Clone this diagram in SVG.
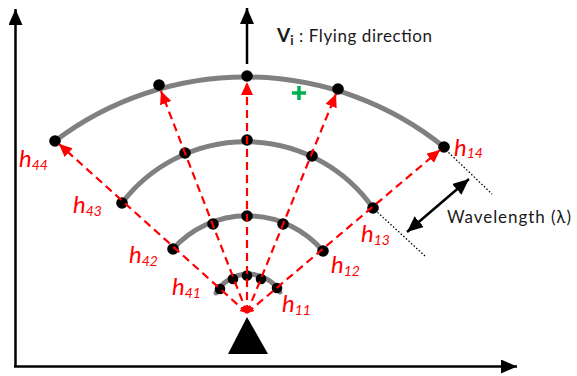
<svg xmlns="http://www.w3.org/2000/svg" width="577" height="376" viewBox="0 0 577 376">
<style>
.wave{fill:none;stroke:#808080;stroke-width:5;stroke-linecap:round}
.dot{fill:#000}
.ray{fill:none;stroke:#ff0000;stroke-width:2.2;stroke-dasharray:8 5}
.axis{stroke:#000;stroke-width:2.5;fill:none}
.lab{font-family:Lato,"Open Sans",sans-serif;font-style:italic;fill:#ff0000}
.h{font-size:24px}
.sub{font-size:14px}
.blk{font-family:Lato,"Open Sans",sans-serif;fill:#1a1a1a}
.dotted{stroke:#000;stroke-width:1.3;stroke-dasharray:1.5 2;fill:none}
</style>
<defs>
<marker id="ah" markerUnits="userSpaceOnUse" markerWidth="18" markerHeight="16" refX="16" refY="7" orient="auto"><path d="M0,0 L16,7 L0,14 z" fill="#000"/></marker>
<marker id="ahs" markerUnits="userSpaceOnUse" markerWidth="18" markerHeight="16" refX="16" refY="7" orient="auto-start-reverse"><path d="M0,0 L16,7 L0,14 z" fill="#000"/></marker>
<marker id="rh" markerUnits="userSpaceOnUse" markerWidth="16" markerHeight="14" refX="13" refY="6" orient="auto"><path d="M0,0 L13,6 L0,12 z" fill="#ff0000"/></marker>
<marker id="rs" markerUnits="userSpaceOnUse" markerWidth="10" markerHeight="10" refX="7" refY="3.5" orient="auto-start-reverse"><path d="M0,0 L7,3.5 L0,7 z" fill="#ff0000"/></marker>
</defs>

<g id="axes">
<line class="axis" x1="15.5" y1="367" x2="15.5" y2="9" marker-end="url(#ah)"/>
<line class="axis" x1="14" y1="366.5" x2="517" y2="366.5" marker-end="url(#ah)"/>
</g>

<g id="source">
<path d="M247,317 L228,354 L268,354 z" fill="#000"/>
</g>

<g id="wave4">
<path class="wave" d="M55,141 A316,316 0 0 1 444,147"/>
<circle class="dot" cx="55" cy="141" r="5.8"/>
<circle class="dot" cx="159" cy="85" r="5.8"/>
<circle class="dot" cx="247" cy="76" r="5.8"/>
<circle class="dot" cx="338" cy="89" r="5.8"/>
<circle class="dot" cx="444" cy="147" r="5.8"/>
</g>
<g id="wave3">
<path class="wave" d="M122,203 A155.5,155.5 0 0 1 373,208"/>
<circle class="dot" cx="122" cy="203" r="5.8"/>
<circle class="dot" cx="185" cy="153" r="5.8"/>
<circle class="dot" cx="247" cy="140" r="5.8"/>
<circle class="dot" cx="312" cy="156" r="5.8"/>
<circle class="dot" cx="373" cy="208" r="5.8"/>
</g>
<g id="wave2">
<path class="wave" d="M173,249 A99.5,99.5 0 0 1 323,251"/>
<circle class="dot" cx="173" cy="249" r="5.8"/>
<circle class="dot" cx="213" cy="224" r="5.8"/>
<circle class="dot" cx="247" cy="216" r="5.8"/>
<circle class="dot" cx="283" cy="224" r="5.8"/>
<circle class="dot" cx="323" cy="251" r="5.8"/>
</g>
<g id="wave1">
<path class="wave" d="M216,293 A37,37 0 0 1 280,292"/>
<circle class="dot" cx="220" cy="289" r="5.3"/>
<circle class="dot" cx="233" cy="279" r="5.3"/>
<circle class="dot" cx="247" cy="275.5" r="5.3"/>
<circle class="dot" cx="261" cy="279" r="5.3"/>
<circle class="dot" cx="277" cy="288" r="5.3"/>
</g>

<g id="connectors">
<line class="ray" x1="247" y1="313" x2="59" y2="144" marker-start="url(#rs)" marker-end="url(#rh)"/>
<line class="ray" x1="247" y1="313" x2="161" y2="91" marker-start="url(#rs)" marker-end="url(#rh)"/>
<line class="ray" x1="247" y1="313" x2="247" y2="82" marker-start="url(#rs)" marker-end="url(#rh)"/>
<line class="ray" x1="247" y1="313" x2="336" y2="94" marker-start="url(#rs)" marker-end="url(#rh)"/>
<line class="ray" x1="247" y1="313" x2="440" y2="150" marker-start="url(#rs)" marker-end="url(#rh)"/>
<line x1="247" y1="64" x2="247" y2="8" stroke="#000" stroke-width="2.5" marker-end="url(#ah)"/>
<line x1="407" y1="232" x2="469" y2="179" stroke="#000" stroke-width="2.5" marker-start="url(#ahs)" marker-end="url(#ah)"/>
<line class="dotted" x1="446" y1="150" x2="492" y2="194"/>
<line class="dotted" x1="375" y1="210" x2="425" y2="256"/>
</g>

<g id="plus">
<path d="M299,86 V100 M292,93 H306" stroke="#00b050" stroke-width="3.5"/>
</g>

<g id="labels">
<text class="lab" x="19" y="167"><tspan class="h">h</tspan><tspan class="sub" dy="3">44</tspan></text>
<text class="lab" x="73" y="213"><tspan class="h">h</tspan><tspan class="sub" dy="3">43</tspan></text>
<text class="lab" x="129" y="263"><tspan class="h">h</tspan><tspan class="sub" dy="3">42</tspan></text>
<text class="lab" x="172" y="295"><tspan class="h">h</tspan><tspan class="sub" dy="3">41</tspan></text>
<text class="lab" x="282" y="312"><tspan class="h">h</tspan><tspan class="sub" dy="3">11</tspan></text>
<text class="lab" x="331" y="273"><tspan class="h">h</tspan><tspan class="sub" dy="3">12</tspan></text>
<text class="lab" x="361" y="242"><tspan class="h">h</tspan><tspan class="sub" dy="3">13</tspan></text>
<text class="lab" x="454" y="156"><tspan class="h">h</tspan><tspan class="sub" dy="2">14</tspan></text>
</g>

<g id="title">
<text class="blk" x="277" y="42" font-size="19" font-weight="bold">V<tspan font-size="13" dy="3">i</tspan></text>
<text class="blk" x="299" y="42" font-size="17" textLength="133">: Flying direction</text>
</g>
<g id="wavelength-label">
<text class="blk" x="447" y="223" font-size="17" textLength="124">Wavelength (λ)</text>
</g>
</svg>
